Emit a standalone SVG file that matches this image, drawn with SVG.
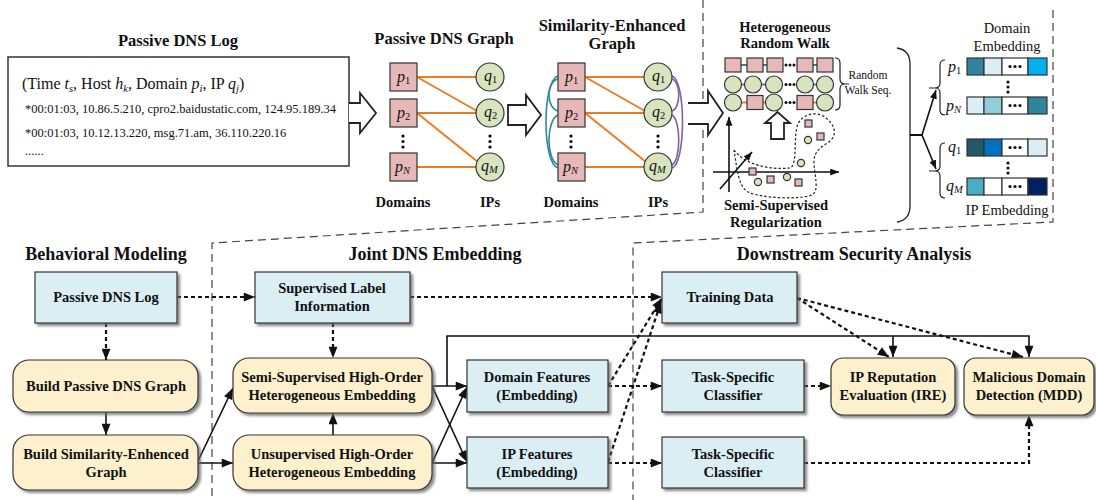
<svg xmlns="http://www.w3.org/2000/svg" width="1096" height="500" viewBox="0 0 1096 500">
<style>
text{font-family:"Liberation Serif","Times New Roman",serif;fill:#111}
.t{font-weight:bold;font-size:16.5px;text-anchor:middle}
.h{font-weight:bold;font-size:18px;text-anchor:middle}
.n{font-weight:bold;font-size:14.5px;text-anchor:middle}
.s{font-weight:bold;font-size:14.5px;text-anchor:middle}
.e{font-size:14.5px;text-anchor:middle}
.rw{font-size:11.5px;text-anchor:middle}
.lbl{font-style:italic;font-size:16px}
.sub{font-style:normal;font-size:10.5px}
.subi{font-style:italic;font-size:10.5px}
.blue{fill:#dbeef4;stroke:#333;stroke-width:1.2}
.yel{fill:#fdf0cc;stroke:#333;stroke-width:1.2}
.sq{fill:#e6b9b8;stroke:#333;stroke-width:1.2}
.ci{fill:#d7e4bd;stroke:#333;stroke-width:1.2}
.or{stroke:#ec7c22;stroke-width:2;fill:none}
.tl{stroke:#31859c;stroke-width:1.6;fill:none}
.pu{stroke:#8064a2;stroke-width:1.6;fill:none}
.sol{stroke:#111;stroke-width:1.6;fill:none}
.dot{stroke:#111;stroke-width:2.2;fill:none;stroke-dasharray:4 3}
.reg{stroke:#444;stroke-width:1.2;fill:none;stroke-dasharray:8 5}
.hol{fill:#fff;stroke:#222;stroke-width:1.8}
.cell{stroke:#333;stroke-width:1.2}
</style>
<defs>
<filter id="sh" x="-10%" y="-10%" width="130%" height="140%"><feDropShadow dx="2.5" dy="2.5" stdDeviation="0.8" flood-color="#666" flood-opacity="0.75"/></filter>
<marker id="ah" viewBox="0 0 10 8" refX="10" refY="4" markerWidth="12" markerHeight="9" orient="auto" markerUnits="userSpaceOnUse"><path d="M0,0 L10,4 L0,8 z" fill="#111"/></marker>
<marker id="as" viewBox="0 0 10 8" refX="10" refY="4" markerWidth="9" markerHeight="7" orient="auto" markerUnits="userSpaceOnUse"><path d="M0,0 L10,4 L0,8 z" fill="#111"/></marker>
</defs>

<!-- region boundaries -->
<g id="regions">
<path class="reg" d="M703,0 L703,212 L212,243 L212,500"/>
<path class="reg" d="M1053,10 L1053,222 L633,243 L633,500"/>
</g>

<!-- Passive DNS log (top) -->
<g id="log">
<text class="t" x="178" y="46">Passive DNS Log</text>
<rect x="8" y="57" width="341" height="109" fill="#fff" stroke="#333" stroke-width="1.5"/>
<text x="22" y="89" font-size="16">(Time <tspan font-style="italic">t</tspan><tspan font-size="10.5" dy="3" font-style="italic">s</tspan><tspan dy="-3">, Host </tspan><tspan font-style="italic">h</tspan><tspan font-size="10.5" dy="3" font-style="italic">k</tspan><tspan dy="-3">, Domain </tspan><tspan font-style="italic">p</tspan><tspan font-size="10.5" dy="3" font-style="italic">i</tspan><tspan dy="-3">, IP </tspan><tspan font-style="italic">q</tspan><tspan font-size="10.5" dy="3" font-style="italic">j</tspan><tspan dy="-3">)</tspan></text>
<text x="25" y="113" font-size="12.5">*00:01:03, 10.86.5.210, cpro2.baidustatic.com, 124.95.189.34</text>
<text x="25" y="137" font-size="12.5">*00:01:03, 10.12.13.220, msg.71.am, 36.110.220.16</text>
<text x="25" y="155" font-size="12.5">......</text>
</g>

<!-- hollow arrows -->
<g id="hollow-arrows">
<path class="hol" d="M349,103 L360,103 L360,93 L376,113 L360,133 L360,123 L349,123"/>
<path class="hol" d="M508,105 L526,105 L526,95 L541,115 L526,135 L526,125 L508,125 Z"/>
<path class="hol" d="M688,103 L708,103 L708,91 L723,113 L708,135 L708,124 L688,124"/>
<path class="hol" d="M771,139 L771,123 L765,123 L777.5,112 L790,123 L784,123 L784,139 Z"/>
</g>

<!-- Passive DNS graph -->
<g id="pdns-graph">
<text class="t" x="444" y="44">Passive DNS Graph</text>
<line class="or" x1="417" y1="77" x2="476" y2="77"/>
<line class="or" x1="417" y1="77" x2="477" y2="111"/>
<line class="or" x1="417" y1="113" x2="476" y2="113"/>
<line class="or" x1="417" y1="113" x2="478" y2="162"/>
<line class="or" x1="417" y1="167" x2="476" y2="167"/>
<rect class="sq" x="390" y="63" width="27" height="28"/>
<rect class="sq" x="390" y="99" width="27" height="28"/>
<rect class="sq" x="390" y="153" width="27" height="28"/>
<circle class="ci" cx="490" cy="77" r="14"/>
<circle class="ci" cx="490" cy="113" r="14"/>
<circle class="ci" cx="490" cy="167" r="14"/>
<text class="lbl" x="397" y="82">p<tspan class="sub" dy="2">1</tspan></text>
<text class="lbl" x="397" y="118">p<tspan class="sub" dy="2">2</tspan></text>
<text class="lbl" x="395" y="172">p<tspan class="subi" dy="2">N</tspan></text>
<text class="lbl" x="484" y="81">q<tspan class="sub" dy="2">1</tspan></text>
<text class="lbl" x="484" y="117">q<tspan class="sub" dy="2">2</tspan></text>
<text class="lbl" x="481" y="171">q<tspan class="subi" dy="2">M</tspan></text>
<circle cx="403" cy="136" r="1.6"/><circle cx="403" cy="141.5" r="1.6"/><circle cx="403" cy="147" r="1.6"/>
<circle cx="490" cy="136" r="1.6"/><circle cx="490" cy="141.5" r="1.6"/><circle cx="490" cy="147" r="1.6"/>
<text class="s" x="403" y="207">Domains</text>
<text class="s" x="490" y="207">IPs</text>
</g>

<!-- Similarity-enhanced graph -->
<g id="se-graph">
<text class="t" x="612" y="31" font-size="15.5">Similarity-Enhanced</text>
<text class="t" x="612" y="49" font-size="15.5">Graph</text>
<path class="tl" d="M558,79 C546,82 546,108 558,111"/>
<path class="tl" d="M558,115 C546,120 546,160 558,165"/>
<path class="tl" d="M558,76 C542,80 542,164 558,168"/>
<path class="pu" d="M672,79 C681,82 681,108 672,111"/>
<path class="pu" d="M672,115 C681,120 681,160 672,165"/>
<path class="pu" d="M672,76 C686,80 686,164 672,168"/>
<line class="or" x1="585" y1="77" x2="644" y2="77"/>
<line class="or" x1="585" y1="77" x2="645" y2="111"/>
<line class="or" x1="585" y1="113" x2="644" y2="113"/>
<line class="or" x1="585" y1="113" x2="646" y2="162"/>
<line class="or" x1="585" y1="167" x2="644" y2="167"/>
<rect class="sq" x="558" y="63" width="27" height="28"/>
<rect class="sq" x="558" y="99" width="27" height="28"/>
<rect class="sq" x="558" y="153" width="27" height="28"/>
<circle class="ci" cx="658" cy="77" r="14"/>
<circle class="ci" cx="658" cy="113" r="14"/>
<circle class="ci" cx="658" cy="167" r="14"/>
<text class="lbl" x="565" y="82">p<tspan class="sub" dy="2">1</tspan></text>
<text class="lbl" x="565" y="118">p<tspan class="sub" dy="2">2</tspan></text>
<text class="lbl" x="563" y="172">p<tspan class="subi" dy="2">N</tspan></text>
<text class="lbl" x="652" y="81">q<tspan class="sub" dy="2">1</tspan></text>
<text class="lbl" x="652" y="117">q<tspan class="sub" dy="2">2</tspan></text>
<text class="lbl" x="649" y="171">q<tspan class="subi" dy="2">M</tspan></text>
<circle cx="571" cy="136" r="1.6"/><circle cx="571" cy="141.5" r="1.6"/><circle cx="571" cy="147" r="1.6"/>
<circle cx="658" cy="136" r="1.6"/><circle cx="658" cy="141.5" r="1.6"/><circle cx="658" cy="147" r="1.6"/>
<text class="s" x="571" y="207">Domains</text>
<text class="s" x="658" y="207">IPs</text>
</g>

<!-- Heterogeneous random walk -->
<g id="random-walk">
<text class="s" x="785" y="32">Heterogeneous</text>
<text class="s" x="785" y="48">Random Walk</text>
<g stroke-width="2">
<line x1="741" y1="65" x2="747" y2="65" stroke="#31859c"/>
<line x1="763" y1="65" x2="767" y2="65" stroke="#31859c"/>
<line x1="813" y1="65" x2="817" y2="65" stroke="#31859c"/>
<line x1="741" y1="84.5" x2="745" y2="84.5" stroke="#8064a2"/>
<line x1="761" y1="84.5" x2="766" y2="84.5" stroke="#8064a2"/>
<line x1="813" y1="84.5" x2="817" y2="84.5" stroke="#8064a2"/>
<line x1="741" y1="102.5" x2="747" y2="102.5" stroke="#ec7c22"/>
<line x1="763" y1="102.5" x2="766" y2="102.5" stroke="#ec7c22"/>
<line x1="813" y1="102.5" x2="817" y2="102.5" stroke="#ec7c22"/>
</g>
<rect class="sq" x="725" y="58" width="16" height="14"/>
<rect class="sq" x="747" y="58" width="16" height="14"/>
<rect class="sq" x="767" y="58" width="16" height="14"/>
<rect class="sq" x="797" y="58" width="16" height="14"/>
<rect class="sq" x="817" y="58" width="16" height="14"/>
<circle class="ci" cx="733" cy="84.5" r="8.5"/>
<circle class="ci" cx="753" cy="84.5" r="8.5"/>
<circle class="ci" cx="774" cy="84.5" r="8.5"/>
<circle class="ci" cx="805" cy="84.5" r="8.5"/>
<circle class="ci" cx="825" cy="84.5" r="8.5"/>
<circle class="ci" cx="733" cy="102.5" r="8.5"/>
<rect class="sq" x="747" y="95.5" width="16" height="14"/>
<circle class="ci" cx="774" cy="102.5" r="8.5"/>
<rect class="sq" x="797" y="95.5" width="16" height="14"/>
<circle class="ci" cx="825" cy="102.5" r="8.5"/>
<g fill="#111">
<circle cx="786" cy="65" r="1.5"/><circle cx="790" cy="65" r="1.5"/><circle cx="794" cy="65" r="1.5"/>
<circle cx="786" cy="84.5" r="1.5"/><circle cx="790" cy="84.5" r="1.5"/><circle cx="794" cy="84.5" r="1.5"/>
<circle cx="786" cy="102.5" r="1.5"/><circle cx="790" cy="102.5" r="1.5"/><circle cx="794" cy="102.5" r="1.5"/>
</g>
<path d="M835,58 Q840,58 840,63 L840,79 Q840,84 845,84 Q840,84 840,89 L840,105 Q840,110 835,110 M845,84 L849,84" fill="none" stroke="#222" stroke-width="1.2"/>
<text class="rw" x="868" y="79">Random</text>
<text class="rw" x="868" y="94">Walk Seq.</text>
</g>

<!-- semi-supervised regularization -->
<g id="regularization">
<line class="sol" x1="729" y1="192" x2="729" y2="117" marker-end="url(#as)" stroke-width="1.3"/>
<line class="sol" x1="713" y1="172" x2="839" y2="172" marker-end="url(#as)" stroke-width="1.3"/>
<line class="sol" x1="720" y1="189" x2="752" y2="152" marker-end="url(#as)" stroke-width="1.3"/>
<path d="M734,150 C745,165 770,170 790,168 C798,166 793,135 798,124 C803,113 818,111 826,118 C834,124 838,134 830,141 C822,147 814,150 814,162 C814,175 820,190 812,195 C798,200 760,198 748,192 C738,186 737,168 734,150 Z" fill="none" stroke="#222" stroke-width="1.2" stroke-dasharray="2.5 2"/>
<g class="sq" stroke-width="1">
<rect x="749" y="168" width="7" height="7"/>
<rect x="767" y="176" width="7" height="7"/>
<rect x="795" y="179" width="7" height="7"/>
<rect x="805" y="120" width="7" height="7"/>
<rect x="817" y="133" width="7" height="7"/>
</g>
<g class="ci" stroke-width="1">
<circle cx="758" cy="182" r="3.6"/>
<circle cx="787" cy="177" r="3.6"/>
<circle cx="801" cy="163" r="3.6"/>
<circle cx="808" cy="140" r="3.6"/>
</g>
<text class="s" x="776" y="210">Semi-Supervised</text>
<text class="s" x="776" y="227">Regularization</text>
</g>

<!-- embeddings -->
<g id="embeddings">
<path d="M897,48 Q910,50 910,64 L910,206 Q910,220 897,222" fill="none" stroke="#222" stroke-width="1.3"/>
<line x1="910" y1="135" x2="922" y2="135" stroke="#111" stroke-width="2"/>
<line class="sol" x1="922" y1="135" x2="936" y2="90" marker-end="url(#as)" stroke-width="1.3"/>
<line class="sol" x1="922" y1="135" x2="936" y2="169" marker-end="url(#as)" stroke-width="1.3"/>
<path d="M945,60 Q940,60 940,65 L940,83 Q940,88 935,88 Q940,88 940,93 L940,110 Q940,115 945,115 M929,88 L937,88" fill="none" stroke="#222" stroke-width="1.2"/>
<path d="M945,143 Q940,143 940,148 L940,166 Q940,171 935,171 Q940,171 940,176 L940,193 Q940,198 945,198 M929,171 L937,171" fill="none" stroke="#222" stroke-width="1.2"/>
<text class="e" x="1007" y="33">Domain</text>
<text class="e" x="1007" y="51">Embedding</text>
<text class="e" x="1007" y="215">IP Embedding</text>
<text class="lbl" x="948" y="72">p<tspan class="sub" dy="2">1</tspan></text>
<text class="lbl" x="946" y="111">p<tspan class="subi" dy="2">N</tspan></text>
<text class="lbl" x="948" y="152">q<tspan class="sub" dy="2">1</tspan></text>
<text class="lbl" x="946" y="191">q<tspan class="subi" dy="2">M</tspan></text>
<g class="cell">
<rect x="967" y="58" width="17" height="17" fill="#31849b"/>
<rect x="984" y="58" width="18" height="17" fill="#dbeef4"/>
<rect x="1002" y="58" width="26" height="17" fill="#fff"/>
<rect x="1028" y="58" width="19" height="17" fill="#00b0f0"/>
<rect x="967" y="97" width="17" height="17" fill="#dbeef4"/>
<rect x="984" y="97" width="18" height="17" fill="#92cddc"/>
<rect x="1002" y="97" width="26" height="17" fill="#fff"/>
<rect x="1028" y="97" width="19" height="17" fill="#31849b"/>
<rect x="967" y="139" width="17" height="17" fill="#215968"/>
<rect x="984" y="139" width="18" height="17" fill="#0070c0"/>
<rect x="1002" y="139" width="26" height="17" fill="#fff"/>
<rect x="1028" y="139" width="19" height="17" fill="#dbeef4"/>
<rect x="967" y="178" width="17" height="17" fill="#4bacc6"/>
<rect x="984" y="178" width="18" height="17" fill="#fff"/>
<rect x="1002" y="178" width="26" height="17" fill="#fff"/>
<rect x="1028" y="178" width="19" height="17" fill="#002060"/>
</g>
<g fill="#111">
<circle cx="1010" cy="66.5" r="1.6"/><circle cx="1015" cy="66.5" r="1.6"/><circle cx="1020" cy="66.5" r="1.6"/>
<circle cx="1010" cy="105.5" r="1.6"/><circle cx="1015" cy="105.5" r="1.6"/><circle cx="1020" cy="105.5" r="1.6"/>
<circle cx="1010" cy="147.5" r="1.6"/><circle cx="1015" cy="147.5" r="1.6"/><circle cx="1020" cy="147.5" r="1.6"/>
<circle cx="1010" cy="186.5" r="1.6"/><circle cx="1015" cy="186.5" r="1.6"/><circle cx="1020" cy="186.5" r="1.6"/>
<circle cx="1008" cy="82" r="1.6"/><circle cx="1008" cy="87" r="1.6"/><circle cx="1008" cy="92" r="1.6"/>
<circle cx="1008" cy="163" r="1.6"/><circle cx="1008" cy="168" r="1.6"/><circle cx="1008" cy="173" r="1.6"/>
</g>
</g>

<!-- section titles -->
<g id="titles">
<text class="h" x="106" y="260">Behavioral Modeling</text>
<text class="h" x="435" y="260">Joint DNS Embedding</text>
<text class="h" x="854" y="260">Downstream Security Analysis</text>
</g>

<!-- connectors -->
<g id="connectors">
<line class="dot" x1="177" y1="297" x2="255" y2="297" marker-end="url(#ah)"/>
<line class="dot" x1="106" y1="323" x2="106" y2="360" marker-end="url(#ah)"/>
<line class="sol" x1="106" y1="412" x2="106" y2="435" marker-end="url(#ah)"/>
<line class="sol" x1="198" y1="461" x2="233" y2="388" marker-end="url(#ah)"/>
<line class="sol" x1="198" y1="463" x2="233" y2="463" marker-end="url(#ah)"/>
<line class="dot" x1="333" y1="323" x2="333" y2="358" marker-end="url(#ah)" stroke-dasharray="2 2" stroke-width="1.8"/>
<line class="sol" x1="333" y1="435" x2="333" y2="413" marker-end="url(#ah)"/>
<line class="dot" x1="410" y1="297" x2="662" y2="297" marker-end="url(#ah)"/>
<line class="sol" x1="432" y1="386" x2="467" y2="386" marker-end="url(#ah)"/>
<line class="sol" x1="432" y1="386" x2="467" y2="462" marker-end="url(#ah)"/>
<line class="sol" x1="432" y1="463" x2="467" y2="387" marker-end="url(#ah)"/>
<line class="sol" x1="432" y1="463" x2="467" y2="463" marker-end="url(#ah)"/>
<path class="sol" d="M447,386 L447,336 L1029,336 L1029,357" marker-end="url(#ah)"/>
<line class="sol" x1="893" y1="336" x2="893" y2="357" marker-end="url(#ah)"/>
<line class="dot" x1="608" y1="386" x2="662" y2="386" marker-end="url(#ah)"/>
<line class="dot" x1="608" y1="463" x2="662" y2="463" marker-end="url(#ah)"/>
<line class="dot" x1="608" y1="386" x2="662" y2="298" marker-end="url(#ah)"/>
<line class="dot" x1="608" y1="462" x2="661" y2="302" marker-end="url(#ah)"/>
<line class="dot" x1="804" y1="386" x2="831" y2="386" marker-end="url(#ah)"/>
<path class="dot" d="M804,463 L1029,463 L1029,415" marker-end="url(#ah)"/>
<line class="dot" x1="797" y1="298" x2="889" y2="357" marker-end="url(#ah)"/>
<line class="dot" x1="797" y1="298" x2="1023" y2="357" marker-end="url(#ah)"/>
</g>

<!-- bottom nodes -->
<g id="n-pdnslog"><rect class="blue" x="35" y="272" width="142" height="51" filter="url(#sh)"/>
<text class="n" x="106" y="302">Passive DNS Log</text></g>
<g id="n-buildgraph"><rect class="yel" x="13" y="360" width="185" height="52" rx="16" filter="url(#sh)"/>
<text class="n" x="106" y="391">Build Passive DNS Graph</text></g>
<g id="n-buildsim"><rect class="yel" x="13" y="435" width="185" height="55" rx="16" filter="url(#sh)"/>
<text class="n" x="106" y="459">Build Similarity-Enhenced</text>
<text class="n" x="106" y="477">Graph</text></g>
<g id="n-label"><rect class="blue" x="255" y="272" width="155" height="51" filter="url(#sh)"/>
<text class="n" x="332" y="293">Supervised Label</text>
<text class="n" x="332" y="311">Information</text></g>
<g id="n-semi"><rect class="yel" x="233" y="358" width="199" height="55" rx="16" filter="url(#sh)"/>
<text class="n" x="332" y="382">Semi-Supervised High-Order</text>
<text class="n" x="332" y="400">Heterogeneous Embedding</text></g>
<g id="n-unsup"><rect class="yel" x="233" y="435" width="199" height="55" rx="16" filter="url(#sh)"/>
<text class="n" x="332" y="459">Unsupervised High-Order</text>
<text class="n" x="332" y="477">Heterogeneous Embedding</text></g>
<g id="n-domfeat"><rect class="blue" x="467" y="360" width="141" height="52" filter="url(#sh)"/>
<text class="n" x="537" y="382">Domain Features</text>
<text class="n" x="537" y="400">(Embedding)</text></g>
<g id="n-ipfeat"><rect class="blue" x="467" y="437" width="141" height="51" filter="url(#sh)"/>
<text class="n" x="537" y="459">IP Features</text>
<text class="n" x="537" y="477">(Embedding)</text></g>
<g id="n-train"><rect class="blue" x="662" y="272" width="135" height="51" filter="url(#sh)"/>
<text class="n" x="730" y="302">Training Data</text></g>
<g id="n-tsc1"><rect class="blue" x="662" y="360" width="142" height="52" filter="url(#sh)"/>
<text class="n" x="733" y="382">Task-Specific</text>
<text class="n" x="733" y="400">Classifier</text></g>
<g id="n-tsc2"><rect class="blue" x="662" y="437" width="142" height="51" filter="url(#sh)"/>
<text class="n" x="733" y="459">Task-Specific</text>
<text class="n" x="733" y="477">Classifier</text></g>
<g id="n-ire"><rect class="yel" x="831" y="358" width="124" height="57" rx="12" filter="url(#sh)"/>
<text class="n" x="893" y="382">IP Reputation</text>
<text class="n" x="893" y="400">Evaluation (IRE)</text></g>
<g id="n-mdd"><rect class="yel" x="964" y="358" width="130" height="57" rx="12" filter="url(#sh)"/>
<text class="n" x="1029" y="382">Malicious Domain</text>
<text class="n" x="1029" y="400">Detection (MDD)</text></g>
</svg>
